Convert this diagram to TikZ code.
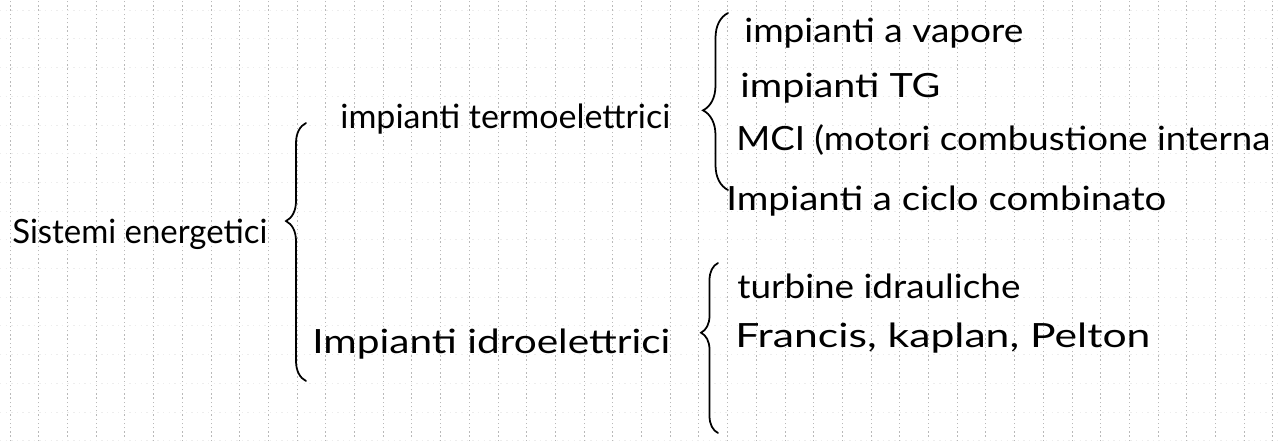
\documentclass[tikz,border=0pt]{standalone}
\usepackage{graphicx}
\usepackage{fontspec}
\setmainfont{Lato}
\usetikzlibrary{decorations.pathreplacing}
% stretch a line of notes to a given width, height unchanged
\newcommand{\scrawl}[2]{\resizebox{#1}{\height}{#2}}

\begin{document}
\begin{tikzpicture}[
  note/.style={anchor=base west,inner sep=0pt,font=\fontsize{19}{21}\selectfont},
  curly/.style n args={2}{decorate,decoration={brace,amplitude=#1,aspect=#2},line width=1pt,line cap=round},
]
  \useasboundingbox (0,0) rectangle (25.64,8.82);
  \fill[white] (0,0) rectangle (25.64,8.82);
  % squared paper
  \foreach \k in {0,...,44}
    \draw[gray!55,line width=.4pt,dash pattern=on .8pt off 1.6pt] ({.2+.574*\k},0) -- ({.2+.574*\k},8.82);
  \foreach \k in {0,...,15}
    \draw[gray!14,line width=.3pt,dash pattern=on .8pt off 2.4pt] (0,{8.62-.574*\k}) -- (25.64,{8.62-.574*\k});

  \node[note] (sys) at (0.24,3.96) {\scrawl{5.10cm}{Sistemi energetici}};
  \node[note] (termo) at (6.80,6.26) {\scrawl{6.60cm}{impianti termoelettrici}};
  \node[note] (idro) at (6.24,1.76) {\scrawl{7.16cm}{Impianti idroelettrici}};

  \node[note] (vap) at (14.88,7.98) {\scrawl{5.58cm}{impianti a vapore}};
  \node[note] (tg) at (14.80,6.88) {\scrawl{4.00cm}{impianti TG}};
  \node[note] (mci) at (14.72,5.82) {\scrawl{10.68cm}{MCI (motori combustione interna}};
  \node[note] (cc) at (14.52,4.62) {\scrawl{8.80cm}{Impianti a ciclo combinato}};

  \node[note] (turb) at (14.74,2.86) {\scrawl{5.66cm}{turbine idrauliche}};
  \node[note] (fkp) at (14.70,1.88) {\scrawl{8.30cm}{Francis, kaplan, Pelton}};

  % braces
  \coordinate (s1) at (6.12,1.20);
  \coordinate (s2) at (6.12,6.36);
  \coordinate (t1) at (14.56,5.02);
  \coordinate (t2) at (14.56,8.56);
  \coordinate (h1) at (14.36,0.16);
  \coordinate (h2) at (14.36,3.56);
  \draw[curly={.4cm}{.62}] (s1) -- (s2);
  \draw[curly={.5cm}{.45}] (t1) -- (t2);
  \draw[curly={.34cm}{.59}] (h1) -- (h2);
\end{tikzpicture}
\end{document}
